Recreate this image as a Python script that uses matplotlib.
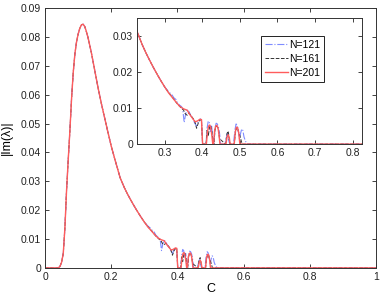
import matplotlib
matplotlib.use("Agg")
import matplotlib.pyplot as plt

plt.rcParams["font.family"] = ["Liberation Sans", "DejaVu Sans"]

# -------------------------------
# Data
# -------------------------------
# shared smooth part (all three N agree here)
c_common = [0.0, 0.040, 0.045, 0.050, 0.055, 0.060, 0.065, 0.070, 0.075, 0.080,
            0.085, 0.090, 0.095, 0.100, 0.105, 0.110, 0.115, 0.120, 0.125, 0.130,
            0.140, 0.150, 0.160, 0.170, 0.180, 0.190, 0.200, 0.210, 0.220, 0.227,
            0.240, 0.250, 0.260, 0.270, 0.280, 0.290, 0.300]
v_common = [0.0, 0.0, 0.0005, 0.0020, 0.0050, 0.0140, 0.0270, 0.0375, 0.0475, 0.0585,
            0.0675, 0.0740, 0.0782, 0.0810, 0.0830, 0.0842, 0.0844, 0.0836, 0.0818, 0.0797,
            0.0745, 0.0685, 0.0625, 0.0570, 0.0520, 0.0470, 0.0422, 0.0380, 0.0340, 0.0312,
            0.0277, 0.0254, 0.0233, 0.0213, 0.0194, 0.0176, 0.0159]

# tails where the resolutions differ
c_tail_121 = [0.31, 0.32, 0.325, 0.33, 0.335, 0.34, 0.345, 0.348, 0.352, 0.356,
              0.36, 0.365, 0.37, 0.375, 0.38, 0.385, 0.39, 0.395, 0.398, 0.401,
              0.410, 0.413, 0.416, 0.419, 0.422, 0.425, 0.428, 0.431, 0.434, 0.437,
              0.440, 0.443, 0.446, 0.449, 0.460, 0.464, 0.467, 0.470, 0.473, 0.483,
              0.487, 0.490, 0.493, 0.496, 0.499, 0.502, 0.505, 0.508, 0.511, 0.515,
              0.520, 1.0]
v_tail_121 = [0.0146, 0.0136, 0.0128, 0.0124, 0.0113, 0.0108, 0.0104, 0.0098, 0.0060, 0.0084,
              0.0096, 0.0090, 0.0078, 0.0072, 0.0058, 0.0050, 0.0064, 0.0070, 0.0066, 0.0,
              0.0, 0.0045, 0.0064, 0.0060, 0.0035, 0.0050, 0.0020, 0.0, 0.0045, 0.0058,
              0.0056, 0.0048, 0.0030, 0.0, 0.0, 0.0018, 0.0030, 0.0012, 0.0, 0.0,
              0.0040, 0.0056, 0.0052, 0.0035, 0.0015, 0.0030, 0.0042, 0.0038, 0.0020, 0.0008,
              0.0, 0.0]

c_tail_161 = [0.31, 0.32, 0.33, 0.335, 0.34, 0.345, 0.35, 0.355, 0.36, 0.365,
              0.37, 0.375, 0.38, 0.385, 0.39, 0.395, 0.398, 0.401, 0.410, 0.413,
              0.416, 0.419, 0.422, 0.425, 0.428, 0.431, 0.434, 0.437, 0.440, 0.443,
              0.446, 0.462, 0.466, 0.469, 0.472, 0.474, 0.485, 0.488, 0.491, 0.494,
              0.497, 0.500, 0.503, 0.506, 1.0]
v_tail_161 = [0.0144, 0.0131, 0.0117, 0.0110, 0.0105, 0.0099, 0.0095, 0.0084, 0.0080, 0.0086,
              0.0079, 0.0072, 0.0064, 0.0044, 0.0060, 0.0068, 0.0066, 0.0, 0.0, 0.0038,
              0.0022, 0.0045, 0.0052, 0.0040, 0.0015, 0.0, 0.0040, 0.0050, 0.0048, 0.0040,
              0.0015, 0.0, 0.0030, 0.0036, 0.0012, 0.0, 0.0, 0.0030, 0.0044, 0.0046,
              0.0030, 0.0024, 0.0012, 0.0, 0.0]

c_tail_201 = [0.31, 0.32, 0.33, 0.34, 0.35, 0.355, 0.36, 0.367, 0.374, 0.381,
              0.387, 0.394, 0.398, 0.401, 0.411, 0.414, 0.417, 0.420, 0.423, 0.426,
              0.428, 0.430, 0.433, 0.436, 0.439, 0.442, 0.445, 0.447, 0.463, 0.466,
              0.469, 0.472, 0.474, 0.485, 0.488, 0.491, 0.494, 0.497, 0.500, 1.0]
v_tail_201 = [0.0143, 0.0130, 0.0117, 0.0105, 0.0098, 0.0096, 0.0094, 0.0082, 0.0072, 0.0062,
              0.0064, 0.0069, 0.0068, 0.0, 0.0, 0.0035, 0.0050, 0.0053, 0.0045, 0.0020,
              0.0, 0.0, 0.0038, 0.0050, 0.0052, 0.0045, 0.0022, 0.0, 0.0, 0.0020,
              0.0026, 0.0018, 0.0, 0.0, 0.0035, 0.0047, 0.0046, 0.0032, 0.0, 0.0]

series = [
    ("N=121", c_common + c_tail_121, v_common + v_tail_121,
     dict(color="#7f8cff", ls="-.", lw=0.8)),
    ("N=161", c_common + c_tail_161, v_common + v_tail_161,
     dict(color="#333333", ls="--", lw=0.7)),
    ("N=201", c_common + c_tail_201, v_common + v_tail_201,
     dict(color="#ff5c5c", ls="-", lw=1.0)),
]

x_ticks = [0, 0.2, 0.4, 0.6, 0.8, 1]
y_ticks = [0, 0.01, 0.02, 0.03, 0.04, 0.05, 0.06, 0.07, 0.08, 0.09]
inset_x_ticks = [0.3, 0.4, 0.5, 0.6, 0.7, 0.8]
inset_y_ticks = [0, 0.01, 0.02, 0.03]


def style_axes(ax):
    ax.tick_params(direction="in", length=3, width=0.6, labelsize=7.5,
                   top=True, right=True, pad=3, colors="#222222")
    for s in ax.spines.values():
        s.set_linewidth(0.7)
        s.set_color("#333333")


# -------------------------------
# Main plot
# -------------------------------
fig = plt.figure(figsize=(3.82, 2.99), dpi=100)
ax = fig.add_axes([0.118, 0.104, 0.866, 0.869])
for name, c, v, kw in series:
    ax.plot(c, v, label=name, **kw)
ax.set_xlim(0, 1)
ax.set_ylim(0, 0.09)
ax.set_xticks(x_ticks)
ax.set_xticklabels(["0", "0.2", "0.4", "0.6", "0.8", "1"])
ax.set_yticks(y_ticks)
ax.set_yticklabels(["0"] + ["%.2f" % t for t in y_ticks[1:]])
style_axes(ax)
ax.set_xlabel("C", fontsize=9, labelpad=1)
ax.set_ylabel("|Im(λ)|", fontsize=9)
ax.yaxis.set_label_coords(-0.097, 0.5)

# -------------------------------
# Inset
# -------------------------------
ins = fig.add_axes([0.359, 0.518, 0.589, 0.422])
for name, c, v, kw in series:
    ins.plot(c, v, label=name, **kw)
ins.set_xlim(0.227, 0.825)
ins.set_ylim(0, 0.035)
ins.set_xticks(inset_x_ticks)
ins.set_yticks(inset_y_ticks)
ins.set_yticklabels(["0", "0.01", "0.02", "0.03"])
style_axes(ins)
leg = ins.legend(loc="upper right", bbox_to_anchor=(0.832, 0.857), fontsize=7.5,
                 handlelength=2.2, handletextpad=0.15, borderpad=0.35,
                 labelspacing=0.4, fancybox=False, framealpha=1,
                 edgecolor="#222222", borderaxespad=0)
leg.get_frame().set_linewidth(0.7)

fig.savefig("out.png", dpi=100)
